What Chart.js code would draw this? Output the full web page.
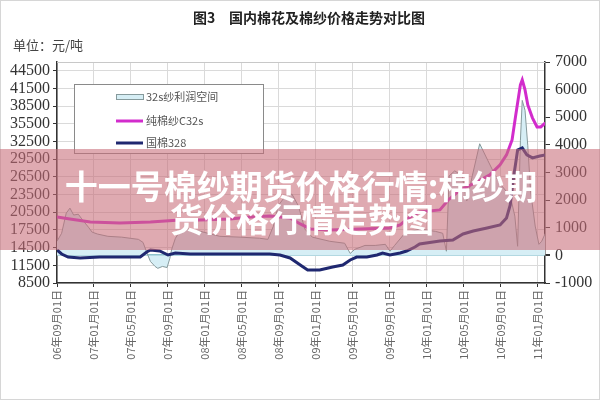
<!DOCTYPE html>
<html>
<head>
<meta charset="utf-8">
<script src="https://cdn.jsdelivr.net/npm/chart.js@4.4.1/dist/chart.umd.min.js"></script>
<style>
html,body{margin:0;padding:0;background:#fff;}
#wrap{width:600px;height:400px;position:relative;}
canvas{display:block;}
</style>
</head>
<body>
<div id="wrap"><canvas id="c" width="600" height="400"></canvas></div>
<script>
// ---- Text ----
const chartTitleNo = '图3';
const chartTitle = '国内棉花及棉纱价格走势对比图';
const unitLabel = '单位：元/吨';
const bannerLines = ['十一号棉纱期货价格行情:棉纱期', '货价格行情走势图'];

// ---- Axis ticks ----
const xTickLabels = ['06年09月01日','07年01月01日','07年05月01日','07年09月01日','08年01月01日','08年05月01日','08年09月01日','09年01月01日','09年05月01日','09年09月01日','10年01月01日','10年05月01日','10年09月01日','11年01月01日'];
const leftTicks = [8500, 11500, 14500, 17500, 20500, 23500, 26500, 29500, 32500, 35500, 38500, 41500, 44500];
const rightTicks = [-1000, 0, 1000, 2000, 3000, 4000, 5000, 6000, 7000];

// ---- Series (x = months since 2006-09-01) ----
const seriesNames = ['32s纱利润空间', '纯棉纱C32s', '国棉328'];

const yarnMonths = [0,1.4,3.6,6.8,10.1,13.3,15.5,18.7,20.9,23.0,25.2,26.3,27.4,29.5,32.8,36.0,37.1,38.0,39.2,41.4,42.3,43.6,45.2,46.8,47.9,48.6,49.2,49.6,50.1,50.3,50.6,50.9,51.4,51.9,52.3,52.8];
const yarnPrice  = [19700,19370,18860,18690,18860,19200,19200,19370,19700,19880,19540,18520,17670,17500,17670,17840,18350,19540,20560,20900,22590,24290,25480,26840,28540,30230,32780,37030,42120,42970,41270,38720,36520,34990,34990,35670];

const cottonMonths = [0,0.5,1.2,2.5,4.6,6.8,9.0,9.7,10.1,11.1,12.0,12.8,14.4,17.6,20.9,23.0,24.1,25.2,26.3,27.1,28.4,29.8,30.9,31.7,32.4,33.5,34.6,35.2,36.0,37.1,37.8,38.7,39.2,41.4,42.8,43.9,45.0,46.5,47.9,48.6,49.0,49.4,49.8,50.3,50.8,51.4,52.2,52.8];
const cottonPrice  = [14100,13420,12910,12750,12910,12910,12910,13760,14100,13930,13250,13590,13420,13420,13420,13420,13250,12750,11560,10710,10710,11220,11560,12410,12910,12910,13250,13590,13250,13590,13930,14610,15120,15630,15800,16820,17330,17840,18350,19540,21740,26840,31080,31420,30230,29720,30060,30230];

const profitMonths = [0,0.5,1.0,1.4,1.8,2.3,2.7,3.4,3.8,4.4,5.5,7.0,8.8,9.3,9.7,10.1,10.6,10.9,11.4,11.9,12.2,12.4,12.8,13.3,13.8,15.5,17.6,19.8,21.9,22.8,23.4,23.9,24.6,25.4,26.1,26.8,27.6,29.5,31.1,31.7,32.2,33.3,34.4,35.5,36.0,36.5,37.6,39.2,40.9,41.7,42.1,42.4,43.0,43.8,44.3,44.9,45.7,46.6,47.4,48.1,49.0,49.5,49.8,50.1,50.3,50.6,50.9,51.2,51.7,52.1,52.4,52.8];
const profitValue  = [510,800,1530,1710,1460,1490,1310,1020,840,770,690,660,580,470,110,-220,-400,-470,-400,-440,-110,220,620,870,980,870,690,660,620,580,1060,1790,2110,2220,1790,950,660,510,440,70,220,360,360,400,150,360,800,950,870,800,150,2880,3060,2880,1970,2880,4040,3420,2880,2510,2150,1420,330,4150,5610,5250,3970,2330,1060,400,510,800];

function pts(xs, ys){ return xs.map((x,i)=>({x:x, y:ys[i]})); }
function labelToMonth(s){ const y = 2000 + parseInt(s.slice(0,2),10); const m = parseInt(s.slice(3,5),10); return (y-2006)*12 + (m-9); }
const xTickMonths = xTickLabels.map(labelToMonth);

const serif = '"Liberation Serif", "DejaVu Serif", serif';
const cjk = '"Noto Sans CJK SC", "Noto Sans", sans-serif';

const legendPlugin = {
  id: 'customLegend',
  afterDatasetsDraw(chart){
    const ctx = chart.ctx;
    ctx.save();
    ctx.fillStyle = '#ffffff';
    ctx.fillRect(74, 84, 189, 69);
    ctx.strokeStyle = '#8a8a8a';
    ctx.lineWidth = 1;
    ctx.strokeRect(74.5, 84.5, 189, 69);
    const rows = [97, 121, 143];
    chart.data.datasets.forEach((ds) => {
      const idx = seriesNames.indexOf(ds.label);
      const y = rows[idx];
      if (idx === 0) {
        ctx.fillStyle = ds.backgroundColor;
        ctx.fillRect(116, y-3, 27, 6);
        ctx.strokeStyle = ds.borderColor;
        ctx.strokeRect(116.5, y-2.5, 27, 5);
      } else {
        ctx.strokeStyle = ds.borderColor;
        ctx.lineWidth = 3;
        ctx.beginPath(); ctx.moveTo(116, y); ctx.lineTo(143, y); ctx.stroke();
        ctx.lineWidth = 1;
      }
      ctx.fillStyle = '#555';
      ctx.font = '11px ' + cjk;
      ctx.textBaseline = 'middle';
      ctx.textAlign = 'left';
      ctx.fillText(ds.label, 146, y);
    });
    ctx.restore();
  }
};

const framePlugin = {
  id: 'frameAndText',
  beforeDraw(chart){
    const ctx = chart.ctx;
    ctx.save();
    ctx.fillStyle = '#fff';
    ctx.fillRect(0,0,600,400);
    ctx.strokeStyle = '#d6d6d6';
    ctx.strokeRect(0.5,0.5,599,399);
    ctx.fillStyle = '#222';
    ctx.font = 'bold 14px ' + cjk;
    ctx.textAlign = 'left';
    ctx.textBaseline = 'middle';
    ctx.fillText(chartTitleNo, 193, 18);
    ctx.fillText(chartTitle, 229, 18);
    ctx.fillStyle = '#444';
    ctx.font = '13px ' + cjk;
    ctx.fillText(unitLabel, 13, 45);
    ctx.restore();
  },
  afterDraw(chart){
    const ctx = chart.ctx;
    const a = chart.chartArea;
    ctx.save();
    ctx.strokeStyle = '#c8c8c8';
    ctx.lineWidth = 1;
    ctx.beginPath(); ctx.moveTo(a.left, a.top+0.5); ctx.lineTo(a.right, a.top+0.5); ctx.stroke();
    // banner
    ctx.fillStyle = 'rgba(200,108,120,0.58)';
    ctx.fillRect(0, 149, 600, 101);
    ctx.fillStyle = '#ffffff';
    ctx.font = 'bold 33px ' + cjk;
    ctx.textAlign = 'center';
    ctx.textBaseline = 'middle';
    ctx.fillText(bannerLines[0], 301, 186);
    ctx.fillText(bannerLines[1], 302, 219);
    ctx.restore();
  }
};

new Chart(document.getElementById('c'), {
  type: 'line',
  data: {
    datasets: [
      { label: seriesNames[1], data: pts(yarnMonths, yarnPrice), yAxisID: 'y', borderColor: '#d22ccc', borderWidth: 3, pointRadius: 0, fill: false, order: 1 },
      { label: seriesNames[2], data: pts(cottonMonths, cottonPrice), yAxisID: 'y', borderColor: '#1f2870', borderWidth: 3, pointRadius: 0, fill: false, order: 2 },
      { label: seriesNames[0], data: pts(profitMonths, profitValue), yAxisID: 'y1', borderColor: '#869a9c', backgroundColor: '#d6eef5', borderWidth: 1, pointRadius: 0, fill: 'origin', order: 3 }
    ]
  },
  options: {
    responsive: false,
    animation: false,
    devicePixelRatio: 1,
    layout: { padding: { top: 62, left: 0, right: 0, bottom: 0 } },
    plugins: { legend: { display: false }, title: { display: false }, tooltip: { enabled: false } },
    scales: {
      x: {
        type: 'linear', min: 0, max: 52.76,
        afterBuildTicks: (s) => { s.ticks = xTickMonths.map(v => ({ value: v })); },
        afterFit: (s) => { s.height = 117; },
        ticks: { minRotation: 90, maxRotation: 90, autoSkip: false, padding: 3, color: '#666', font: { size: 11, family: cjk },
          callback: (v) => { const i = xTickMonths.indexOf(v); return i >= 0 ? xTickLabels[i] : ''; } },
        grid: { color: '#dadada', tickColor: '#333', tickLength: 4 },
        border: { color: '#333', width: 1.5 }
      },
      y: {
        position: 'left', min: 8500, max: 46000,
        afterBuildTicks: (s) => { s.ticks = leftTicks.map(v => ({ value: v })); },
        afterFit: (s) => { s.width = 57; },
        ticks: { autoSkip: false, color: '#333', padding: 3, font: { size: 16, family: serif }, callback: (v) => String(v) },
        grid: { color: '#dadada', tickColor: '#333', tickLength: 4 },
        border: { color: '#333', width: 1.5 }
      },
      y1: {
        position: 'right', min: -1000, max: 7000,
        afterBuildTicks: (s) => { s.ticks = rightTicks.map(v => ({ value: v })); },
        afterFit: (s) => { s.width = 55; },
        ticks: { autoSkip: false, color: '#333', padding: 5, font: { size: 16, family: serif }, callback: (v) => String(v) },
        grid: { drawOnChartArea: true, tickColor: '#333', tickLength: 5,
          color: (c) => (c.tick && c.tick.value === 0) ? '#8fc3cc' : 'rgba(0,0,0,0)',
          lineWidth: (c) => (c.tick && c.tick.value === 0) ? 2 : 1 },
        border: { color: '#333', width: 1.5 }
      }
    }
  },
  plugins: [framePlugin, legendPlugin]
});
</script>
</body>
</html>
